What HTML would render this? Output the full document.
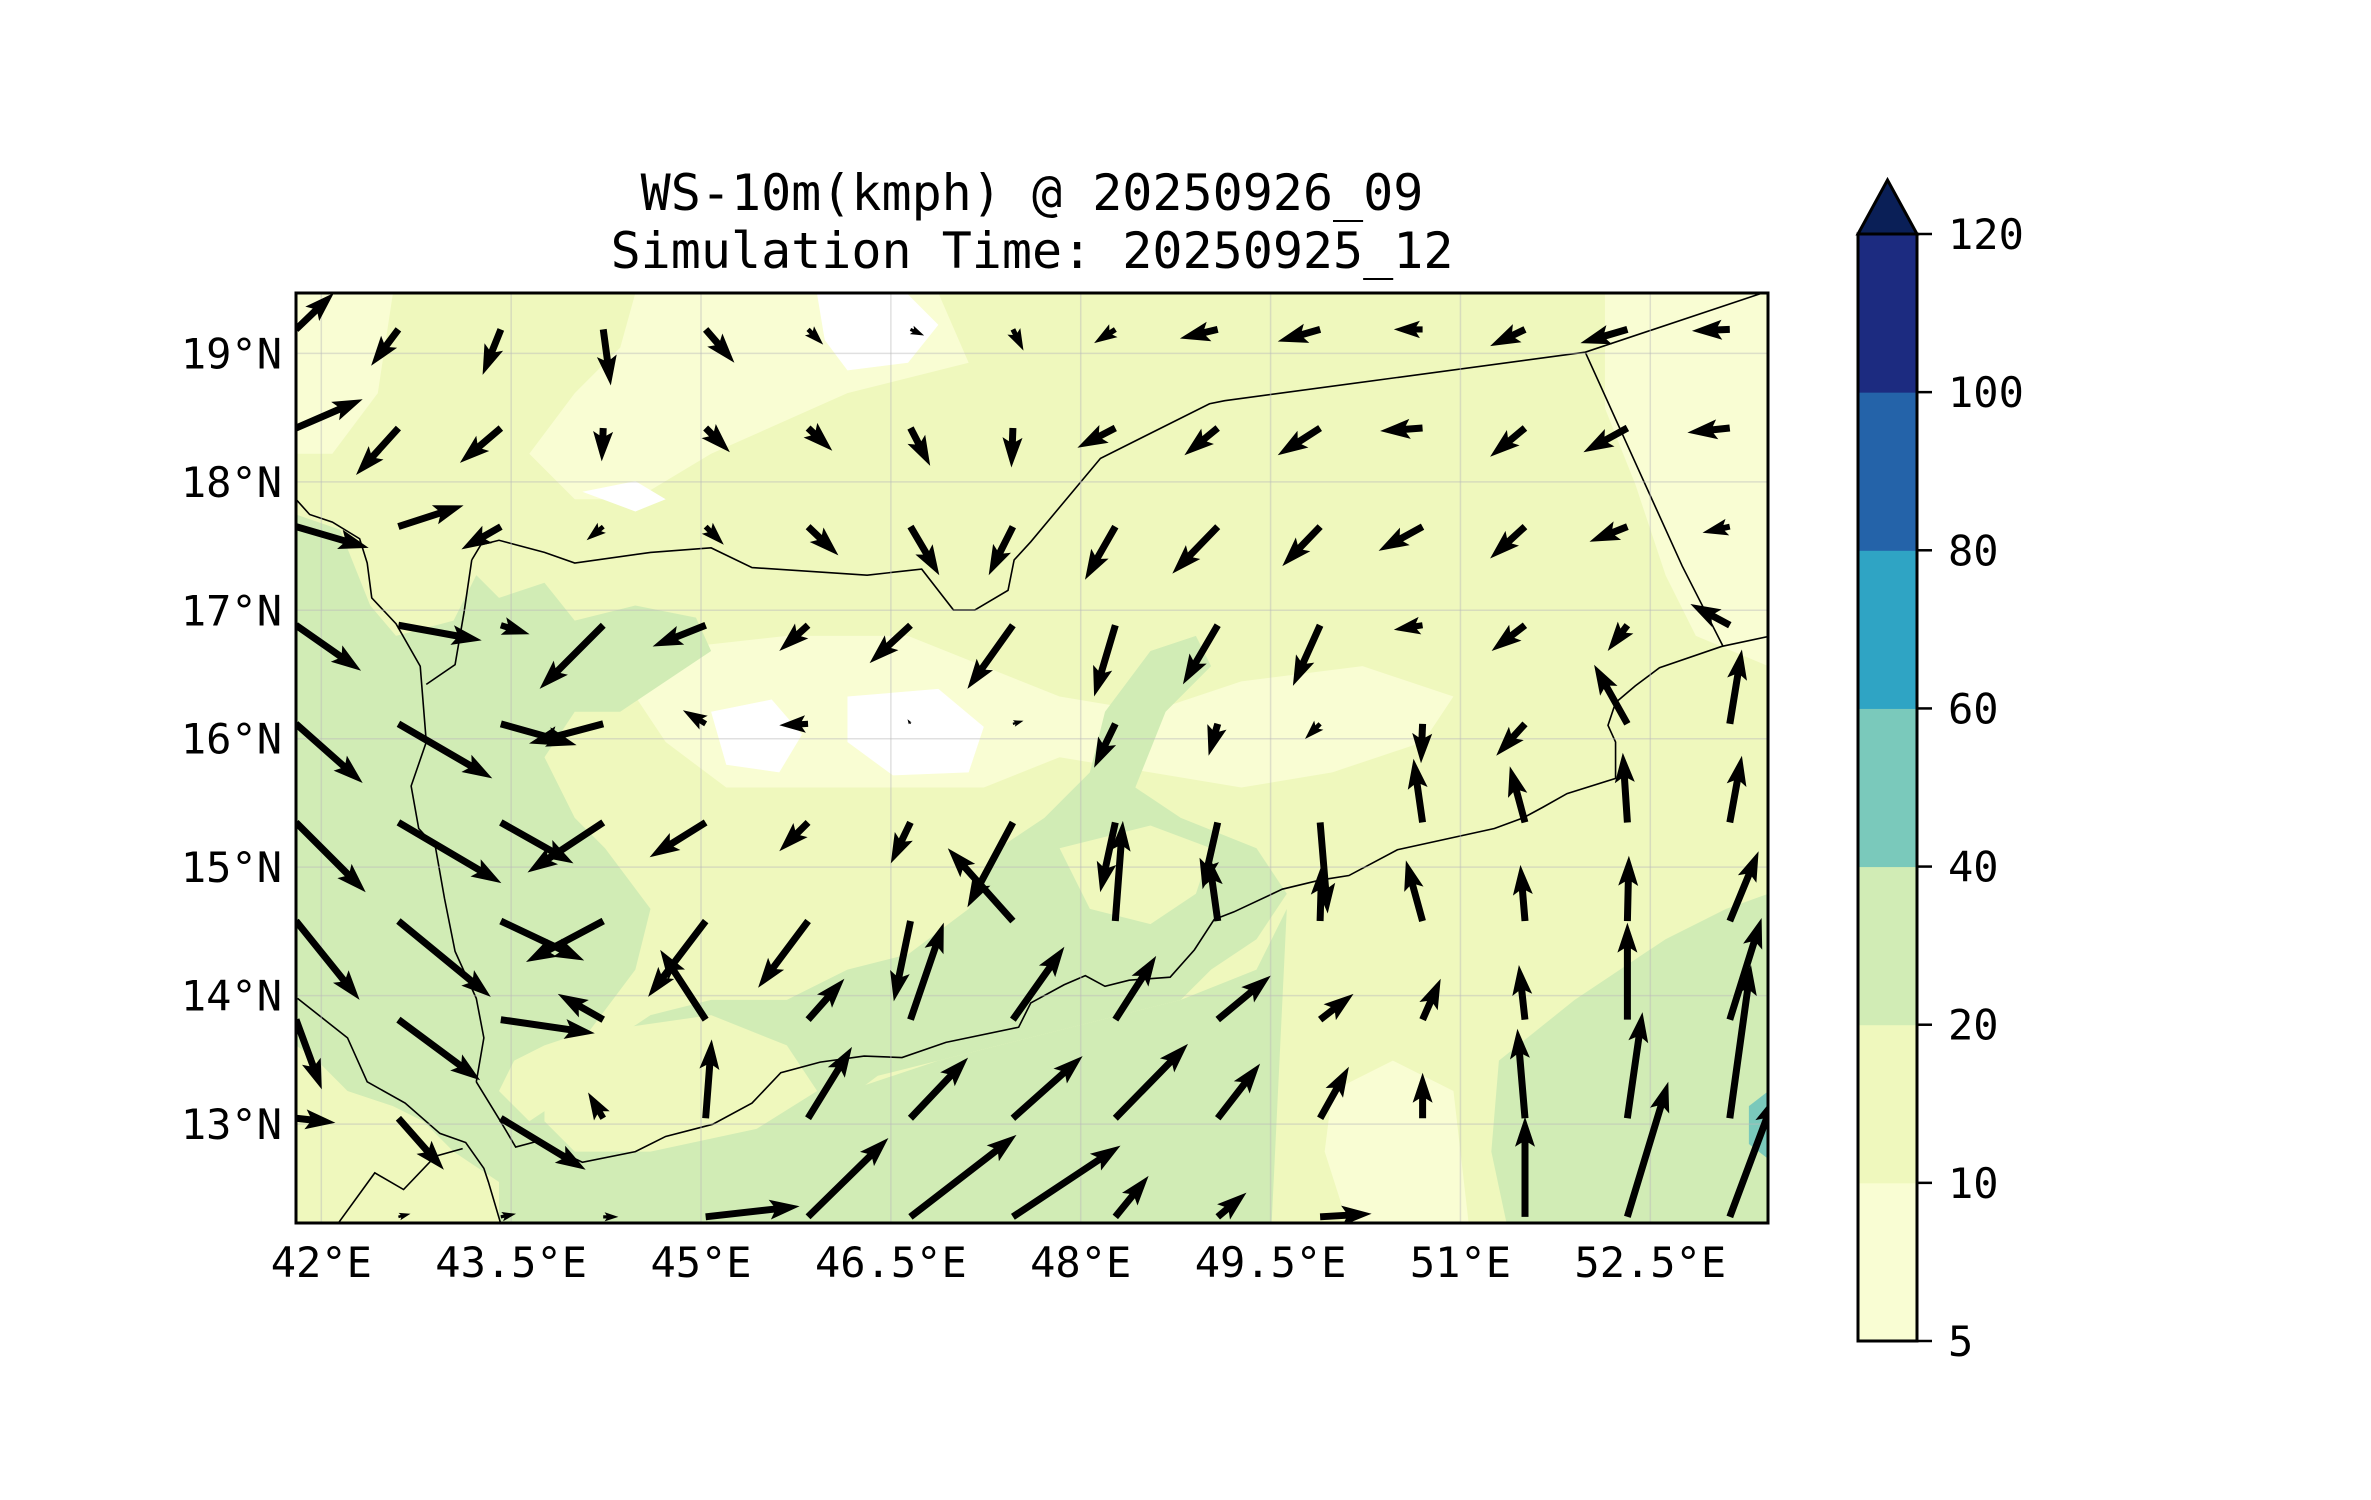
<!DOCTYPE html>
<html><head><meta charset="utf-8"><style>
html,body{margin:0;padding:0;background:#fff}
svg{display:block}
text{font-family:"DejaVu Sans Mono","Liberation Mono",monospace;fill:#000}
</style></head><body>
<svg id="fig" width="2371" height="1500" viewBox="0 0 2371 1500" xmlns="http://www.w3.org/2000/svg">
<rect width="2371" height="1500" fill="#fff"/>
<text x="1032" y="210" font-size="50" text-anchor="middle">WS-10m(kmph) @ 20250926_09</text>
<text x="1032" y="268" font-size="50" text-anchor="middle">Simulation Time: 20250925_12</text>
<defs><clipPath id="mapclip"><rect x="296" y="293" width="1472" height="930"/></clipPath></defs>
<g id="map" clip-path="url(#mapclip)">
 <g transform="matrix(1.515 0 0 1.517 -0.94 -1.3)">
  <rect x="196" y="194" width="972" height="613" fill="#eff8bd"/>
  <polygon fill="#f9fdd3" points="420,194 620,194 640,240 560,260 470,300 420,330 380,330 350,300 380,260 410,230"/>
  <polygon fill="#f9fdd3" points="196,194 260,194 250,260 220,300 196,300"/>
  <polygon fill="#f9fdd3" points="1060,194 1168,194 1168,440 1120,420 1100,380 1080,320 1060,270"/>
  <polygon fill="#f9fdd3" points="430,430 520,420 600,420 700,460 760,470 820,450 900,440 960,460 940,490 880,510 820,520 760,510 700,500 650,520 560,520 480,520 440,490 420,460"/>
  <polygon fill="#f9fdd3" points="880,720 920,700 960,720 970,807 890,807 875,760"/>
  <polygon fill="#d1ecb5" points="196,340 225,350 245,400 262,420 300,410 315,380 330,395 360,385 380,410 420,400 460,408 470,430 440,450 410,470 380,470 360,500 380,540 400,560 430,600 420,640 390,680 360,690 340,700 330,720 350,740 380,720 400,690 430,670 470,660 520,660 560,640 600,630 640,600 660,560 690,540 720,510 730,470 760,430 790,420 800,440 770,470 750,520 780,540 830,560 850,590 830,620 800,640 780,660 740,670 700,680 660,690 620,700 580,710 540,740 500,750 470,760 430,770 400,780 380,790 350,790 330,780 300,760 280,740 260,730 230,720 210,700 196,690"/>
  <polygon fill="#d1ecb5" points="330,760 420,760 500,740 560,720 620,700 700,680 780,660 830,640 850,600 840,807 330,807"/>
  <polygon fill="#eff8bd" points="360,700 400,680 470,670 520,690 540,720 500,745 430,760 380,760 360,740"/>
  <polygon fill="#eff8bd" points="700,560 760,545 800,560 790,590 760,610 720,600"/>
  <polygon fill="#d1ecb5" points="990,700 1040,660 1100,620 1140,600 1168,590 1168,807 995,807 985,760"/>
  <polygon fill="#ffffff" points="540,195 600,195 620,215 600,240 560,245 545,225"/>
  <polygon fill="#ffffff" points="470,470 510,462 530,485 515,510 480,505"/>
  <polygon fill="#ffffff" points="560,460 620,455 650,480 640,510 590,512 560,490"/>
  <polygon fill="#ffffff" points="385,325 420,318 440,330 420,338"/>
  <polygon fill="#7ac9bb" points="1155,730 1168,720 1168,765 1155,755"/>
  <g fill="none" stroke="#000" stroke-width="1.6" vector-effect="non-scaling-stroke">
   <polyline vector-effect="non-scaling-stroke" points="312,370 318,360 330,357 360,365 380,372 430,365 470,362 497,375 573,380 609,376 630,403 644,403 666,390 670,370 681,358 727,303 799,267 809,265 1047,233 1161,195 1170,192"/>
   <polyline vector-effect="non-scaling-stroke" points="1047,233 1111,374 1138,427"/>
   <polyline vector-effect="non-scaling-stroke" points="196,330 205,340 220,345 238,356 243,372 246,395 262,412 278,440 282,490 272,519 277,547 288,559 294,593 301,628 315,659 320,685 315,714"/>
   <polyline vector-effect="non-scaling-stroke" points="312,370 307,404 301,439 282,452"/>
   <polyline vector-effect="non-scaling-stroke" points="315,714 331,740 341,757 356,753 385,767 420,760 440,750 471,742 497,728 516,708 542,701 571,697 596,698 625,688 673,678 681,662 703,650 717,644 730,651 746,647 773,645 789,627 802,607 815,602 847,587 872,581 891,578 923,561 987,547 1006,540 1019,533 1035,524 1067,514 1067,490 1062,479 1067,464 1080,453 1096,441 1137,427 1170,420"/>
   <polyline vector-effect="non-scaling-stroke" points="197,659 230,685 243,714 268,728 291,748 308,754 320,771 323,780 331,807"/>
   <polyline vector-effect="non-scaling-stroke" points="224,807 248,774 267,785 288,763 306,758"/>
  </g>
 </g>
 <g id="grid" stroke="#bbb" stroke-opacity="0.45" stroke-width="1.5"></g>
 <g id="arrows" fill="#000"></g>
</g>
<rect x="296" y="293" width="1472" height="930" fill="none" stroke="#000" stroke-width="3"/>
<g id="ticks"></g>
<g id="cbar"></g>
</svg>
<script>
// ---- chart data ----
const lonTicks = [42, 43.5, 45, 46.5, 48, 49.5, 51, 52.5];
const lonLabels = ["42°E","43.5°E","45°E","46.5°E","48°E","49.5°E","51°E","52.5°E"];
const latTicks = [19, 18, 17, 16, 15, 14, 13];
const latLabels = ["19°N","18°N","17°N","16°N","15°N","14°N","13°N"];
const cbLevels = [5, 10, 20, 40, 60, 80, 100, 120];
const cbColors = ["#f9fdd3","#eff8bd","#d1ecb5","#7ac9bb","#2fa4c4","#2463a9","#1c2b80"];
const cbExtendColor = "#0a1f57";
// wind u (east) and v (north) components per row (top to bottom), 15 columns each
const windU = [
 [25,-18,-12,5,19,10,9,7,-14,-25,-28,-19,-23,-31,-25],
 [44,-28,-27,-1,16,16,13,-1,-25,-22,-28,-28,-23,-29,-28],
 [48,43,-26,-11,12,20,19,-16,-20,-30,-25,-29,-23,-25,-18],
 [43,55,19,-42,-35,-19,-27,-30,-14,-23,-18,-19,-22,-13,-26],
 [44,62,50,-49,-15,-19,-2,7,-14,-6,-10,-1,-19,-22,8],
 [46,68,48,-50,-37,-19,-13,-30,-10,-10,5,-6,-10,-3,8],
 [42,61,55,-51,-38,-33,-11,-43,5,-6,1,-11,-3,1,19],
 [17,54,62,-30,-30,24,22,34,27,35,22,12,-4,0,21],
 [26,30,56,-10,4,29,38,46,48,28,19,0,-5,10,14],
 [0,8,10,10,62,53,70,71,22,19,34,0,0,27,30]
];
const windV = [
 [24,-24,-30,-37,-22,-10,-4,-14,-9,-6,-8,0,-11,-9,-1],
 [19,-31,-23,-22,-16,-15,-25,-26,-13,-18,-18,-2,-19,-16,-3],
 [-14,14,-15,-9,-12,-19,-32,-32,-35,-31,-26,-16,-21,-10,-4],
 [-30,-10,-6,-42,-14,-17,-25,-42,-47,-39,-40,-3,-17,-17,14],
 [-39,-36,-14,-13,9,-1,3,2,-29,-21,-10,-26,-21,39,49],
 [-46,-40,-27,-33,-23,-19,-27,-56,-46,-44,-60,42,37,46,44],
 [-52,-50,-26,-27,-50,-44,-53,48,66,43,37,40,37,43,46],
 [-46,-40,-9,17,46,27,64,48,42,29,17,27,36,64,67],
 [-3,-34,-34,17,52,47,40,41,49,36,34,30,59,70,101],
 [0,2,2,0,7,52,54,47,27,16,2,0,66,89,80]
];
// ---- geometry helpers ----
const NS = "http://www.w3.org/2000/svg";
const MAP = {x0:296, x1:1768, y0:293, y1:1223, lon0:41.8, lon1:53.43, lat0:12.23, lat1:19.47};
function xLon(lon){ return MAP.x0 + (lon-MAP.lon0)/(MAP.lon1-MAP.lon0)*(MAP.x1-MAP.x0); }
function yLat(lat){ return MAP.y0 + (MAP.lat1-lat)/(MAP.lat1-MAP.lat0)*(MAP.y1-MAP.y0); }
const colX = i => 296 + 67.6*i*1.515;
const rowY = j => 293 + (24 + 65*j)*1.517;
const uScale = 1.515, vScale = 1.517;
function cbY(k){ return 1341 - k*(1341-234)/(cbLevels.length-1); }
function mk(tag, attrs, parent){ const e=document.createElementNS(NS,tag); for(const k in attrs) e.setAttribute(k, attrs[k]); parent.appendChild(e); return e; }

// gridlines
const grid = document.getElementById('grid');
lonTicks.forEach(function(lon){
  const l = mk('line', {x1:xLon(lon), x2:xLon(lon), y1:293, y2:1223}, grid);
  
  
});
latTicks.forEach(function(lat){
  const l = mk('line', {x1:296, x2:1768, y1:yLat(lat), y2:yLat(lat)}, grid);
  
  
});

// tick labels
const ticks = document.getElementById('ticks');
lonTicks.forEach(function(lon, i){
  const t = mk('text', {x:xLon(lon), y:1277, 'font-size':42, 'text-anchor':'middle'}, ticks);
  t.textContent = lonLabels[i];
  
  
});
latTicks.forEach(function(lat, i){
  const t = mk('text', {x:282, y:yLat(lat)+15, 'font-size':42, 'text-anchor':'end'}, ticks);
  t.textContent = latLabels[i];
  
  
});

// arrows
const arrows = document.getElementById('arrows');
windU.forEach(function(row, j){
  row.forEach(function(u, i){
    const v = windV[j][i];
    const dx = u*uScale, dy = -v*vScale;
    const L = Math.hypot(dx, dy);
    if (L < 2) return;
    const k = Math.min(1, L/33);
    const w = 7*k, hl = 30*k, hw = 10*k, ha = 26*k;
    const x = colX(i), y = rowY(j);
    const pts = [[0,-w/2],[L-ha,-w/2],[L-hl,-hw],[L,0],[L-hl,hw],[L-ha,w/2],[0,w/2]];
    const ang = Math.atan2(dy, dx);
    const c = Math.cos(ang), s = Math.sin(ang);
    const p = mk('polygon', {points: pts.map(q => (x+q[0]*c-q[1]*s).toFixed(1)+','+(y+q[0]*s+q[1]*c).toFixed(1)).join(' ')}, arrows);
    
    
  });
});

// colorbar
const cb = document.getElementById('cbar');
cbColors.forEach(function(col, k){
  const r = mk('rect', {x:1858, y:cbY(k+1), width:59, height:cbY(k)-cbY(k+1)+0.5, fill:col}, cb);
  
  
});
const tri = mk('polygon', {points:'1858,234 1887.5,180 1917,234', fill:cbExtendColor, stroke:'#000', 'stroke-width':3}, cb);


const frame = mk('rect', {x:1858, y:234, width:59, height:1107, fill:'none', stroke:'#000', 'stroke-width':3}, cb);


cbLevels.forEach(function(lv, k){
  const y = cbY(k);
  const tk = mk('line', {x1:1917, x2:1932, y1:y, y2:y, stroke:'#000', 'stroke-width':2.5}, cb);
  
  
  const t = mk('text', {x:1948, y:y+15, 'font-size':42}, cb);
  t.textContent = String(lv);
  
  
});
</script>
</body></html>
